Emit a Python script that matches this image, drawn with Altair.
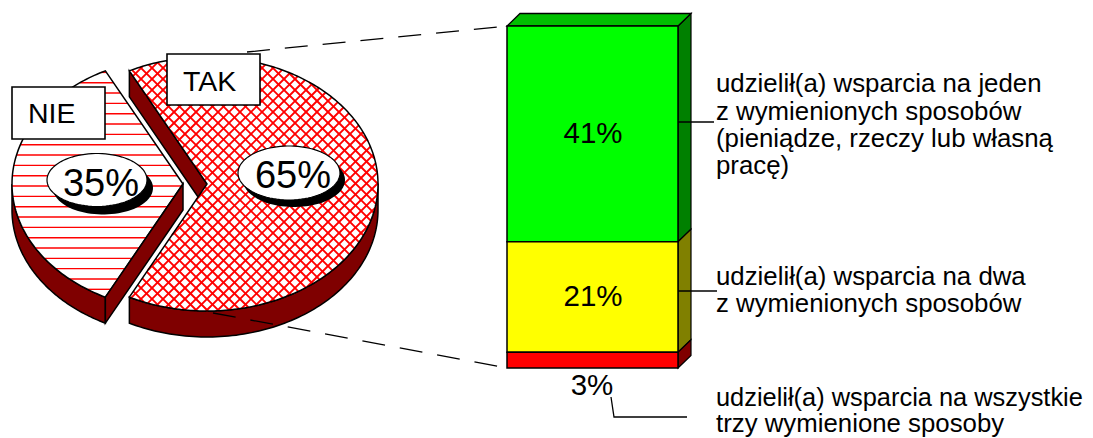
import numpy as np
import altair as alt

# ---- data ----
pie_labels = ["TAK", "NIE"]
pie_shares = [65, 35]
stack_values = [41, 21, 3]            # top to bottom
stack_colors = ["#00ff00", "#ffff00", "#ff0000"]
stack_side_colors = ["#008000", "#808000", "#800000"]
desc_1 = ["udzielił(a) wsparcia na jeden", "z wymienionych sposobów",
          "(pieniądze, rzeczy lub własną", "pracę)"]
desc_2 = ["udzielił(a) wsparcia na dwa", "z wymienionych sposobów"]
desc_3 = ["udzielił(a) wsparcia na wszystkie", "trzy wymienione sposoby"]

# ---- layout ----
W, H = 1077, 430
FONT = "Liberation Sans"
RX, RY, DEPTH = 171, 127, 26
C_TAK = (207, 184)
C_NIE = (183, 184)
WALL = "#7f0000"
BAR_X0, BAR_X1, BAR_BASE, BAR_K = 507, 678, 368, 342 / 65
BAR_DX, BAR_DY = 13, 12.5

X = alt.X("x:Q", axis=None, scale=alt.Scale(domain=[8, 8 + W], nice=False, zero=False))
Y = alt.Y("y:Q", axis=None, scale=alt.Scale(domain=[8 + H, 8], nice=False, zero=False))
YP_S = alt.Scale(domain=[(BAR_BASE - 8 - H) / BAR_K, (BAR_BASE - 8) / BAR_K], nice=False, zero=False)


def arc_pts(c, a0, a1, dy=0, n=90):
    a = np.radians(np.linspace(a0, a1, n))
    return [(c[0] + RX * np.cos(t), c[1] + dy - RY * np.sin(t)) for t in a]


def poly(pts, fill=None, sw=1.5, stroke="black"):
    ring = [[float(a), float(b)] for a, b in pts]
    ring.append(ring[0])
    feat = {"type": "Feature", "properties": {}, "geometry": {"type": "Polygon", "coordinates": [ring]}}
    kw = dict(stroke=stroke, strokeWidth=sw)
    if fill is None:
        m = alt.Chart(alt.Data(values=[feat])).mark_geoshape(filled=False, **kw)
    else:
        m = alt.Chart(alt.Data(values=[feat])).mark_geoshape(fill=fill, **kw)
    return m.project(type="identity", scale=1, translate=[-8, -8])


def clip(polygon, p, d):
    """Segments of the line p + s*d that lie inside the polygon."""
    ss = []
    n = len(polygon)
    for i in range(n):
        a = np.array(polygon[i]); b = np.array(polygon[(i + 1) % n])
        e = b - a
        den = d[0] * e[1] - d[1] * e[0]
        if abs(den) < 1e-9:
            continue
        w = a - p
        s = (w[0] * e[1] - w[1] * e[0]) / den
        u = (w[0] * d[1] - w[1] * d[0]) / den
        if 0 <= u < 1:
            ss.append(s)
    ss.sort()
    return [(p + ss[i] * d, p + ss[i + 1] * d) for i in range(0, len(ss) - 1, 2)]


def rows(segs):
    return [{"x": float(a[0]), "y": float(a[1]), "x2": float(b[0]), "y2": float(b[1])} for a, b in segs]


def hatch(segs, sw):
    return alt.Chart(alt.Data(values=rows(segs))).mark_rule(color="#ff0000", strokeWidth=sw).encode(
        x=X, y=Y, x2="x2:Q", y2="y2:Q")


def line(pts, dash=None, sw=1.3):
    data = [{"x": a, "y": b, "i": i} for i, (a, b) in enumerate(pts)]
    kw = {"strokeDash": dash} if dash else {}
    return alt.Chart(alt.Data(values=data)).mark_line(color="black", strokeWidth=sw, **kw).encode(
        x=X, y=Y, order="i:O")


def txt(s, x, y, size, align="left"):
    return alt.Chart(alt.Data(values=[{"x": x, "y": y, "t": s}])).mark_text(
        font=FONT, fontSize=size, align=align, baseline="alphabetic", color="black"
    ).encode(x=X, y=Y, text="t:N")


def oval(cx, cy, rx, ry, fill, sw=0):
    a = np.radians(np.arange(0, 360, 4))
    return poly([(cx + rx * np.cos(t), cy + ry * np.sin(t)) for t in a], fill, sw=sw, stroke=fill if sw == 0 else "black")


def box(x0, y0, x1, y1):
    return poly([(x0, y0), (x1, y0), (x1, y1), (x0, y1)], "white", sw=1.6)


# pie angles follow the shares
half_nie = pie_shares[1] / sum(pie_shares) * 360 / 2
a_hi, a_lo = 180 - half_nie, 180 + half_nie

layers = []

# dashed connector hidden behind the TAK box
layers.append(line([(247, 52), (507, 26)], dash=[23, 15]))

# TAK: inner wall, outer wall, top
tak_start = arc_pts(C_TAK, a_hi, a_hi, n=1)[0]
layers.append(poly([tak_start, C_TAK, (C_TAK[0], C_TAK[1] + DEPTH), (tak_start[0], tak_start[1] + DEPTH)], WALL))
tak_wall = arc_pts(C_TAK, a_lo, 360) + arc_pts(C_TAK, 360, a_lo, dy=DEPTH)
layers.append(poly(tak_wall, WALL))
tak_top = [C_TAK] + arc_pts(C_TAK, a_hi, a_lo - 360, n=240)
layers.append(poly(tak_top, "white", sw=0.01))
tak_segs = []
for c in np.arange(-400, 700, 11.0):
    tak_segs += clip(tak_top, np.array([c, 0.0]), np.array([1.0, 1.0]))
for c in np.arange(0, 1000, 11.0):
    tak_segs += clip(tak_top, np.array([c, 0.0]), np.array([-1.0, 1.0]))
layers.append(hatch(tak_segs, 1.9))
layers.append(poly(tak_top, None))

# NIE: outer wall, top, front wall
nie_wall = arc_pts(C_NIE, 180, a_lo) + arc_pts(C_NIE, a_lo, 180, dy=DEPTH)
layers.append(poly(nie_wall, WALL))
nie_top = [C_NIE] + arc_pts(C_NIE, a_hi, a_lo, n=120)
layers.append(poly(nie_top, "white", sw=0.01))
nie_segs = []
for yy in np.arange(279 - 10.33 * 20, 300, 10.33):
    nie_segs += clip(nie_top, np.array([0.0, float(yy)]), np.array([1.0, 0.0]))
layers.append(hatch(nie_segs, 1.4))
layers.append(poly(nie_top, None))
nie_end = arc_pts(C_NIE, a_lo, a_lo, n=1)[0]
layers.append(poly([C_NIE, nie_end, (nie_end[0], nie_end[1] + DEPTH), (C_NIE[0], C_NIE[1] + DEPTH)], WALL))

# dashed connector over the pie
layers.append(line([(213, 313), (507, 368)], dash=[23, 15]))

# value ovals
layers += [oval(103, 188, 50, 26.5, "black"), oval(97, 180, 50, 26.5, "white", sw=1.2),
           oval(294, 180, 51, 27, "black"), oval(289, 173, 51, 27, "white", sw=1.2)]
layers += [txt(f"{pie_shares[1]}%", 101, 196, 38, "center"), txt(f"{pie_shares[0]}%", 293, 188, 38, "center")]

# label boxes
layers += [box(12, 87, 105, 139), box(167, 54, 260, 105)]
layers += [txt(pie_labels[1], 28, 123, 28.5), txt(pie_labels[0], 183, 91, 28.5)]

# stacked bar
tops = np.cumsum(stack_values[::-1])[::-1]
lows = tops - np.array(stack_values)
depth_v = BAR_DY / BAR_K
bar_rows = [{"x": BAR_X0, "x2": BAR_X1, "lo": float(l), "hi": float(t), "c": c, "v": v}
            for l, t, c, v in zip(lows, tops, stack_colors, stack_values)]
side_rows = []
for i, (l, t, c) in enumerate(zip(lows, tops, stack_side_colors)):
    side_rows.append({"x": BAR_X1, "lo": float(l), "hi": float(t), "c": c, "s": i})
    side_rows.append({"x": BAR_X1 + BAR_DX, "lo": float(l) + depth_v, "hi": float(t) + depth_v, "c": c, "s": i})

layers.append(alt.Chart(alt.Data(values=side_rows)).mark_area(stroke="black", strokeWidth=1.2).encode(
    x=X, y=alt.Y("lo:Q", axis=None, scale=YP_S), y2="hi:Q",
    fill=alt.Fill("c:N", scale=None), detail="s:N"))
bar_top_y = BAR_BASE - BAR_K * float(tops[0])
layers.append(poly([(BAR_X0, bar_top_y), (BAR_X1, bar_top_y), (BAR_X1 + BAR_DX, bar_top_y - BAR_DY),
                    (BAR_X0 + BAR_DX, bar_top_y - BAR_DY)], "#00bf00", sw=1.3))
layers.append(alt.Chart(alt.Data(values=bar_rows)).mark_rect(stroke="black", strokeWidth=1.5).encode(
    x=X, x2="x2:Q", y=alt.Y("lo:Q", axis=None, scale=YP_S), y2="hi:Q",
    fill=alt.Fill("c:N", scale=None)))

lab_rows = [{"x": (BAR_X0 + BAR_X1) / 2 + 0.5, "m": float(l + t) / 2, "t": f"{v}%"}
            for l, t, v in zip(lows[:2], tops[:2], stack_values[:2])]
layers.append(alt.Chart(alt.Data(values=lab_rows)).mark_text(
    font=FONT, fontSize=29.5, align="center", baseline="middle", color="black", dy=0).encode(
    x=X, y=alt.Y("m:Q", axis=None, scale=YP_S), text="t:N"))
layers.append(txt(f"{stack_values[2]}%", 592, 395, 29.5, "center"))

# leaders
layers += [line([(678, 122), (714, 122)]), line([(678, 291), (717, 291)]),
           line([(611, 397), (614, 417), (687, 417)])]

# descriptions
for s, yy in zip(desc_1, [92, 119.5, 147, 174]):
    layers.append(txt(s, 716, yy, 25.8))
for s, yy in zip(desc_2, [285, 312]):
    layers.append(txt(s, 716, yy, 25.8))
layers.append(txt(desc_3[0], 716, 406, 25.4))
layers.append(txt(desc_3[1], 716, 431.5, 25.8))

chart = alt.layer(*layers).resolve_scale(y="independent").properties(
    width=W, height=H, padding=0, background="white",
    autosize=alt.AutoSizeParams(type="none"),
).configure_view(stroke=None)

chart.save("out.html", embed_options={"renderer": "svg", "actions": False})
